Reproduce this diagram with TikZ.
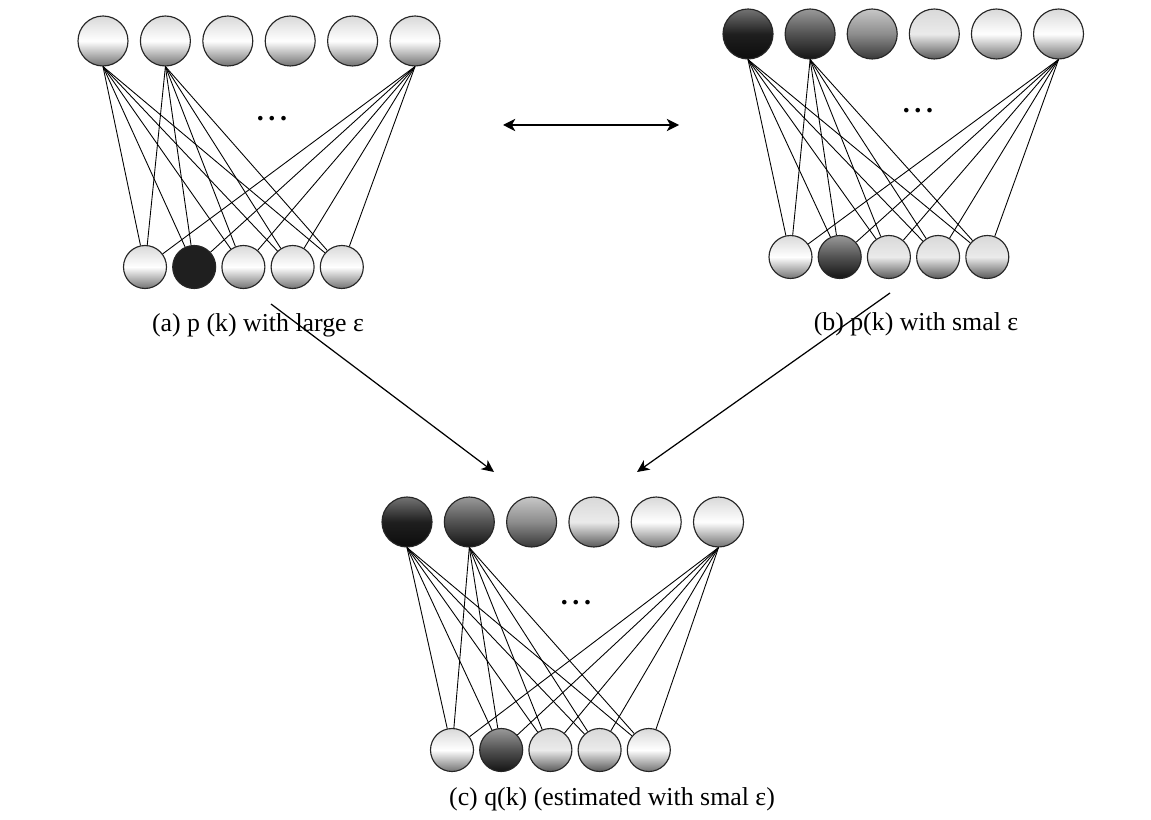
\documentclass[tikz,border=0pt]{standalone}
\usepackage{fontspec}
\setmainfont{Liberation Serif}
\usetikzlibrary{arrows.meta}
\tikzset{
  unit/.style={circle, draw=black!85, line width=0.65pt, inner sep=0pt},
  toprow/.style={unit, minimum size=1cm},
  botrow/.style={unit, minimum size=0.86cm},
  s0/.style={top color=black!15, bottom color=black!55, middle color=white},
  s1/.style={top color=black!15, bottom color=black!65, middle color=black!8},
  s2/.style={top color=black!22, bottom color=black!78, middle color=black!45},
  s3/.style={top color=black!40, bottom color=black!92, middle color=black!68},
  s4/.style={top color=black!55, bottom color=black!95, middle color=black!88},
  solid/.style={fill=black!88},
  link/.style={line width=0.5pt},
  dots/.style={font=\fontsize{16}{18}\selectfont\bfseries},
  flow/.style={line width=0.7pt, -{Stealth[length=7pt,width=6.5pt,inset=2pt]}},
  caption/.style={anchor=base, font=\fontsize{14.7}{17}\selectfont}
}
\begin{document}
\begin{tikzpicture}[x=0.02cm, y=-0.02cm]
        \useasboundingbox (0,0) rectangle (1151,820);
        % (a) p(k), large epsilon
        \begin{scope}[shift={(103,41)}]
          \foreach \s [count=\i] in {s0,s0,s0,s0,s0,s0}
            \node[toprow,\s] (a-t\i) at ({(\i-1)*62.4},0) {};
          \foreach \s [count=\i] in {s0,solid,s0,s0,s0}
            \node[botrow,\s] (a-b\i) at ({42+(\i-1)*49.2},226) {};
          \node[dots] (a-dots) at (169,78) {.\,.\,.};
        \end{scope}
        % (b) p(k), small epsilon
        \begin{scope}[shift={(748,34)}]
          \foreach \s [count=\i] in {s4,s3,s2,s1,s0,s0}
            \node[toprow,\s] (b-t\i) at ({(\i-1)*62.1},0) {};
          \foreach \s [count=\i] in {s0,s3,s1,s1,s1}
            \node[botrow,\s] (b-b\i) at ({42.5+(\i-1)*49.2},223) {};
          \node[dots] (b-dots) at (170,77) {.\,.\,.};
        \end{scope}
        % (c) q(k)
        \begin{scope}[shift={(407,522)}]
          \foreach \s [count=\i] in {s4,s3,s2,s1,s0,s0}
            \node[toprow,\s] (c-t\i) at ({(\i-1)*62.3},0) {};
          \foreach \s [count=\i] in {s0,s3,s1,s1,s0}
            \node[botrow,\s] (c-b\i) at ({45+(\i-1)*49.2},228) {};
          \node[dots] (c-dots) at (169,81) {.\,.\,.};
        \end{scope}
        \foreach \n in {a,b,c}
          \foreach \t in {1,2,6}
            \foreach \b in {1,...,5}
              \draw[link] (\n-t\t.south) -- (\n-b\b);
        \node[caption] (a-cap) at (258,332) {(a) p (k) with large ε};
        \node[caption] (b-cap) at (916,331) {(b) p(k) with smal ε};
        \node[caption] (c-cap) at (612,805) {(c) q(k) (estimated with smal ε)};
        \coordinate (a-out) at (271,304);
        \coordinate (b-out) at (890,293);
        \coordinate (c-inl) at (494,472);
        \coordinate (c-inr) at (637,472);
        \coordinate (ab-l) at (503,125);
        \coordinate (ab-r) at (679,125);
        \draw[flow] (a-out) -- (c-inl);
        \draw[flow] (b-out) -- (c-inr);
        \draw[flow, {Stealth[length=7pt,width=7pt,inset=2pt]}-{Stealth[length=7pt,width=7pt,inset=2pt]}] (ab-l) -- (ab-r);
      \end{tikzpicture}
\end{document}
